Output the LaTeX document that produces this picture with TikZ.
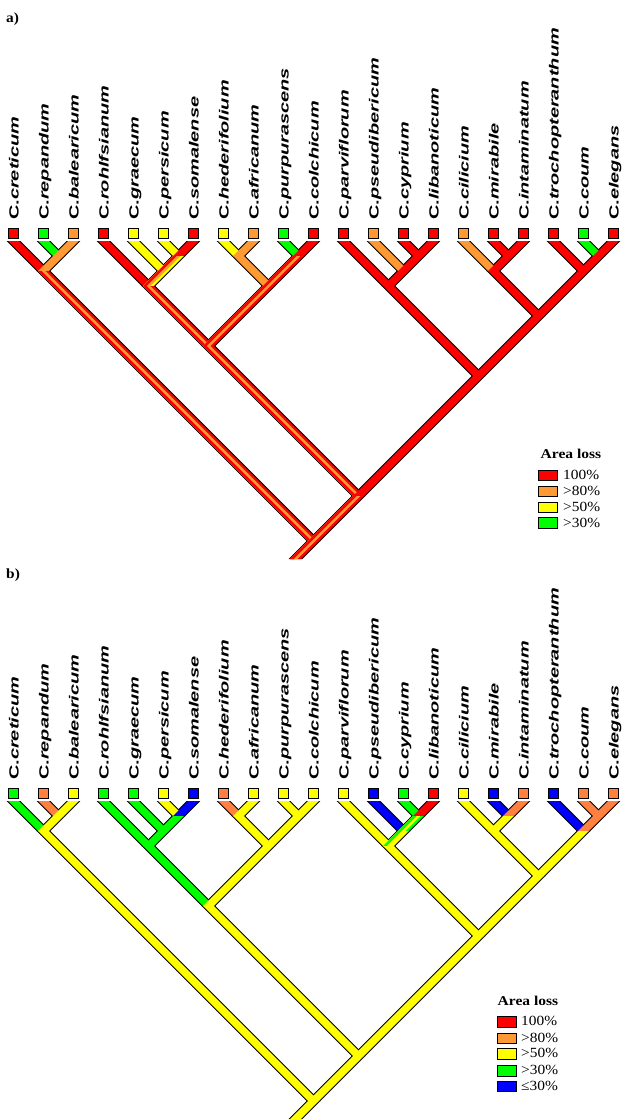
\documentclass[tikz,border=0pt]{standalone}
\usepackage{fontspec}
\setmainfont{Liberation Sans}
\newfontfamily\seriffam{Liberation Serif}
\usetikzlibrary{calc}
\definecolor{cR}{RGB}{255,0,0}
\definecolor{cO}{RGB}{255,153,51}
\definecolor{cP}{RGB}{255,128,64}
\definecolor{cY}{RGB}{255,255,0}
\definecolor{cG}{RGB}{0,255,0}
\definecolor{cB}{RGB}{0,0,255}
\newcommand\hw{5.3}
\newcommand\bw{6.8}
\newcommand\blk[2]{\fill[black] ($(#1)+(-\bw,0)$) -- ($(#1)+(\bw,0)$) -- ($(#2)+(\bw,0)$) -- ($(#2)+(-\bw,0)$) -- cycle;}
\newcommand\brc[3]{\fill[#3] ($(#1)+(-\hw,0)$) -- ($(#1)+(\hw,0)$) -- ($(#2)+(\hw,0)$) -- ($(#2)+(-\hw,0)$) -- cycle;}
\newcommand\brs[5]{%
 \fill[#5] ($(#1)+(-\hw,0)$) -- ($(#1)+(\hw,0)$) -- ($(#2)+(\hw,0)$) -- ($(#2)+(-\hw,0)$) -- cycle;
 \fill[#4] ($(#1)+(-\hw,0)$) -- ($(#1)+(1.8,0)$) -- ($(#2)+(1.8,0)$) -- ($(#2)+(-\hw,0)$) -- cycle;
 \fill[#3] ($(#1)+(-\hw,0)$) -- ($(#1)+(-1.8,0)$) -- ($(#2)+(-1.8,0)$) -- ($(#2)+(-\hw,0)$) -- cycle;}
\newcommand\inn[5]{\coordinate (#1#2) at ({13.5+15*(#3+#4)},{#5+241+15*(#4-#3)});}
\newcommand\defnodes[2]{%
 \foreach \i in {0,...,20}{\coordinate (#1L\i) at ({13.5+30*\i},{#2+241});}
 \inn{#1}{n12}{1}{2}{#2}\inn{#1}{n02}{0}{2}{#2}
 \inn{#1}{n56}{5}{6}{#2}\inn{#1}{n46}{4}{6}{#2}\inn{#1}{n36}{3}{6}{#2}
 \inn{#1}{n78}{7}{8}{#2}\inn{#1}{n910}{9}{10}{#2}\inn{#1}{n710}{7}{10}{#2}\inn{#1}{n310}{3}{10}{#2}
 \inn{#1}{n1314}{13}{14}{#2}\inn{#1}{n1214}{12}{14}{#2}\inn{#1}{n1114}{11}{14}{#2}
 \inn{#1}{n1617}{16}{17}{#2}\inn{#1}{n1517}{15}{17}{#2}
 \inn{#1}{n1920}{19}{20}{#2}\inn{#1}{n1820}{18}{20}{#2}
 \inn{#1}{n1520}{15}{20}{#2}\inn{#1}{n1120}{11}{20}{#2}
 \inn{#1}{n320}{3}{20}{#2}\inn{#1}{rt}{0}{20}{#2}
 \coordinate (#1st) at ({313.5-18},{#2+541+18});
}
\newcommand\blklayer[1]{%
 \blk{#1L0}{#1n02}\blk{#1L1}{#1n12}\blk{#1L2}{#1n12}\blk{#1n12}{#1n02}\blk{#1n02}{#1rt}
 \blk{#1L3}{#1n36}\blk{#1L4}{#1n46}\blk{#1L5}{#1n56}\blk{#1L6}{#1n56}\blk{#1n56}{#1n46}\blk{#1n46}{#1n36}\blk{#1n36}{#1n310}
 \blk{#1L7}{#1n78}\blk{#1L8}{#1n78}\blk{#1n78}{#1n710}\blk{#1L9}{#1n910}\blk{#1L10}{#1n910}\blk{#1n910}{#1n710}\blk{#1n710}{#1n310}\blk{#1n310}{#1n320}
 \blk{#1L11}{#1n1114}\blk{#1L12}{#1n1214}\blk{#1L13}{#1n1314}\blk{#1L14}{#1n1314}\blk{#1n1314}{#1n1214}\blk{#1n1214}{#1n1114}\blk{#1n1114}{#1n1120}
 \blk{#1L15}{#1n1517}\blk{#1L16}{#1n1617}\blk{#1L17}{#1n1617}\blk{#1n1617}{#1n1517}\blk{#1n1517}{#1n1520}
 \blk{#1L18}{#1n1820}\blk{#1L19}{#1n1920}\blk{#1L20}{#1n1920}\blk{#1n1920}{#1n1820}\blk{#1n1820}{#1n1520}\blk{#1n1520}{#1n1120}\blk{#1n1120}{#1n320}\blk{#1n320}{#1rt}\blk{#1rt}{#1st}}
\newcommand\labels[1]{%
 \foreach \i/\t in {0/creticum,1/repandum,2/balearicum,3/rohlfsianum,4/graecum,5/persicum,6/somalense,7/hederifolium,8/africanum,9/purpurascens,10/colchicum,11/parviflorum,12/pseudibericum,13/cyprium,14/libanoticum,15/cilicium,16/mirabile,17/intaminatum,18/trochopteranthum,19/coum,20/elegans}
 {\node[lab] (#1T\i) at ($(#1L\i)+(5,-21)$) {\scalebox{1.5}[1]{C.\textit{\t}}};}}
\newcommand\squares[2]{%
 \foreach \c [count=\i from 0] in {#2}{\node[sq,fill=\c] (#1S\i) at ($(#1L\i)+(0,-7.5)$) {};}}
\begin{document}
\begin{tikzpicture}[x=1pt,y=-1pt,
  lab/.style={rotate=90,anchor=base west,inner sep=0pt,font=\fontsize{13.3}{15}\selectfont\bfseries},
  sq/.style={draw=black,line width=1pt,minimum size=9.5pt,inner sep=0pt},
  lgbox/.style={draw=black,line width=1pt,minimum width=19pt,minimum height=10.5pt,inner sep=0pt},
  lgtxt/.style={anchor=base west,inner sep=0pt,font=\seriffam\fontsize{14}{16}\selectfont},
  lghead/.style={anchor=base,inner sep=0pt,font=\seriffam\bfseries\fontsize{13.5}{15}\selectfont},
  plab/.style={anchor=base west,inner sep=0pt,font=\seriffam\bfseries\fontsize{14}{16}\selectfont}]
\useasboundingbox[fill=white] (0,0) rectangle (632,1120);
\defnodes{a}{0}
\defnodes{b}{560}
% ---------- panel a ----------
\node[plab] (alab) at (6,22.5) {\scalebox{1.1}[1]{a)}};
\blklayer{a}
\brc{aL0}{an02}{cR}
\brc{aL1}{an12}{cG}
\brc{aL2}{an12}{cO}
\brc{an12}{an02}{cO}
\brs{an02}{art}{cR}{cO}{cR}
\brc{aL3}{an36}{cR}
\brc{aL4}{an46}{cY}
\brc{aL5}{an56}{cY}
\brc{aL6}{an56}{cR}
\brs{an56}{an46}{cR}{cO}{cY}
\brs{an46}{an36}{cR}{cO}{cY}
\brs{an36}{an310}{cR}{cO}{cR}
\brc{aL7}{an78}{cY}
\brc{aL8}{an78}{cO}
\brc{an78}{an710}{cO}
\brc{aL9}{an910}{cG}
\brc{aL10}{an910}{cR}
\brs{an910}{an710}{cR}{cO}{cR}
\brs{an710}{an310}{cR}{cO}{cR}
\brs{an310}{an320}{cR}{cO}{cR}
\brc{aL11}{an1114}{cR}
\brc{aL12}{an1214}{cO}
\brc{aL13}{an1314}{cR}
\brc{aL14}{an1314}{cR}
\brc{an1314}{an1214}{cR}
\brc{an1214}{an1114}{cR}
\brc{an1114}{an1120}{cR}
\brc{aL15}{an1517}{cO}
\brc{aL16}{an1617}{cR}
\brc{aL17}{an1617}{cR}
\brc{an1617}{an1517}{cR}
\brc{an1517}{an1520}{cR}
\brc{aL18}{an1820}{cR}
\brc{aL19}{an1920}{cG}
\brc{aL20}{an1920}{cR}
\brc{an1920}{an1820}{cR}
\brc{an1820}{an1520}{cR}
\brc{an1520}{an1120}{cR}
\brc{an1120}{an320}{cR}
\brs{an320}{art}{cR}{cO}{cR}
\brs{art}{ast}{cR}{cO}{cR}
\squares{a}{cR,cG,cO,cR,cY,cY,cR,cY,cO,cG,cR,cR,cO,cR,cR,cO,cR,cR,cR,cG,cR}
\labels{a}
\node[lghead] (ahead) at (571,458) {\scalebox{1.15}[1]{Area loss}};
\node[lgbox,fill=cR] (ak1) at (548,475.3) {};
\node[lgbox,fill=cO] (ak2) at (548,491.5) {};
\node[lgbox,fill=cY] (ak3) at (548,507.5) {};
\node[lgbox,fill=cG] (ak4) at (548,523.2) {};
\node[lgtxt] (at1) at (563,479) {\scalebox{1.1}[1]{100\%}};
\node[lgtxt] (at2) at (563,495.2) {\scalebox{1.1}[1]{>80\%}};
\node[lgtxt] (at3) at (563,511.2) {\scalebox{1.1}[1]{>50\%}};
\node[lgtxt] (at4) at (563,527) {\scalebox{1.1}[1]{>30\%}};
% ---------- panel b ----------
\node[plab] (blab) at (6,578) {\scalebox{1.1}[1]{b)}};
\blklayer{b}
\brc{bL0}{bn02}{cG}
\brc{bL1}{bn12}{cP}
\brc{bL2}{bn12}{cY}
\brc{bn12}{bn02}{cY}
\brc{bn02}{brt}{cY}
\brc{bL3}{bn36}{cG}
\brc{bL4}{bn46}{cG}
\brc{bL5}{bn56}{cY}
\brc{bL6}{bn56}{cB}
\brc{bn56}{bn46}{cG}
\brc{bn46}{bn36}{cG}
\brc{bn36}{bn310}{cG}
\brc{bL7}{bn78}{cP}
\brc{bL8}{bn78}{cY}
\brc{bn78}{bn710}{cY}
\brc{bL9}{bn910}{cY}
\brc{bL10}{bn910}{cY}
\brc{bn910}{bn710}{cY}
\brc{bn710}{bn310}{cY}
\brc{bn310}{bn320}{cY}
\brc{bL11}{bn1114}{cY}
\brc{bL12}{bn1214}{cB}
\brc{bL13}{bn1314}{cG}
\brc{bL14}{bn1314}{cR}
\brs{bn1314}{bn1214}{cG}{cY}{cG}
\brs{bn1214}{bn1114}{cG}{cY}{cY}
\brc{bn1114}{bn1120}{cY}
\brc{bL15}{bn1517}{cY}
\brc{bL16}{bn1617}{cB}
\brc{bL17}{bn1617}{cP}
\brc{bn1617}{bn1517}{cY}
\brc{bn1517}{bn1520}{cY}
\brc{bL18}{bn1820}{cB}
\brc{bL19}{bn1920}{cP}
\brc{bL20}{bn1920}{cP}
\brc{bn1920}{bn1820}{cP}
\brc{bn1820}{bn1520}{cY}
\brc{bn1520}{bn1120}{cY}
\brc{bn1120}{bn320}{cY}
\brc{bn320}{brt}{cY}
\brc{brt}{bst}{cY}
\squares{b}{cG,cP,cY,cG,cG,cY,cB,cP,cY,cY,cY,cY,cB,cG,cR,cY,cB,cP,cB,cP,cP}
\labels{b}
\node[lghead] (bhead) at (528,1005.5) {\scalebox{1.15}[1]{Area loss}};
\node[lgbox,fill=cR] (bk1) at (506.5,1022) {};
\node[lgbox,fill=cO] (bk2) at (506.5,1038.5) {};
\node[lgbox,fill=cY] (bk3) at (506.5,1054.2) {};
\node[lgbox,fill=cG] (bk4) at (506.5,1070.8) {};
\node[lgbox,fill=cB] (bk5) at (506.5,1086.5) {};
\node[lgtxt] (bt1) at (521,1025.5) {\scalebox{1.1}[1]{100\%}};
\node[lgtxt] (bt2) at (521,1042) {\scalebox{1.1}[1]{>80\%}};
\node[lgtxt] (bt3) at (521,1057.7) {\scalebox{1.1}[1]{>50\%}};
\node[lgtxt] (bt4) at (521,1074.3) {\scalebox{1.1}[1]{>30\%}};
\node[lgtxt] (bt5) at (521,1090) {\scalebox{1.1}[1]{≤30\%}};
\end{tikzpicture}
\end{document}
